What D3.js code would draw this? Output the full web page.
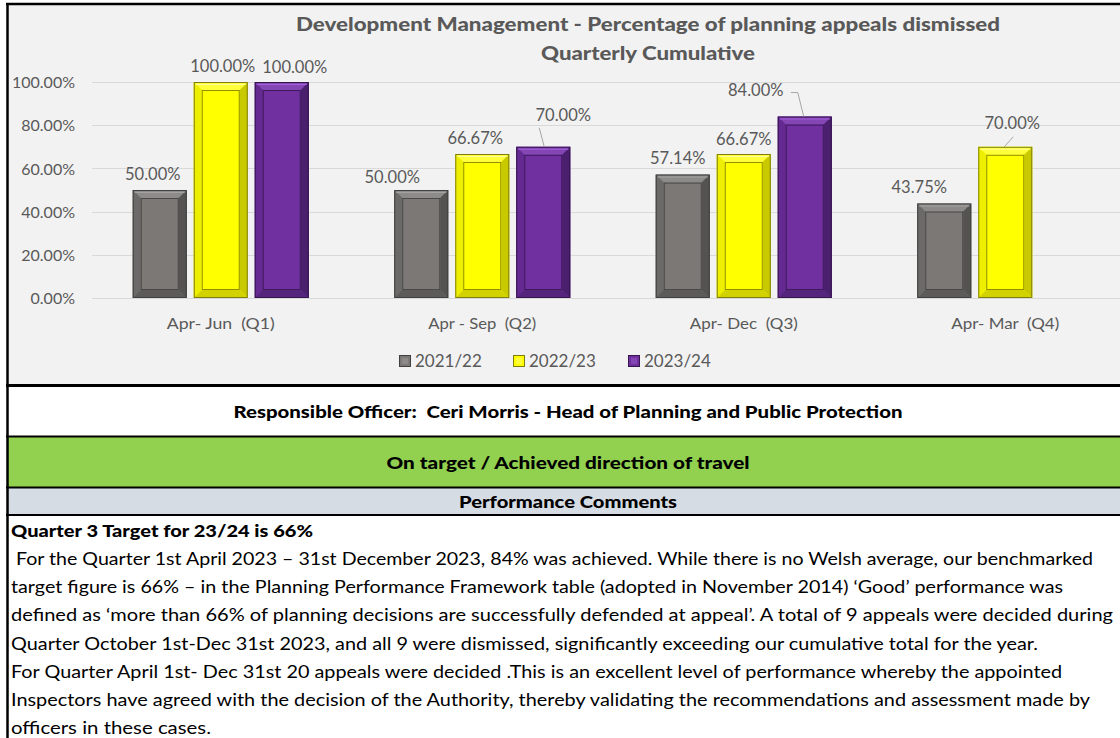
<!DOCTYPE html>
<html>
<head>
<meta charset="utf-8">
<script src="https://cdn.jsdelivr.net/npm/d3@7"></script>
<style>
  html, body { margin: 0; padding: 0; background: #ffffff; }
  svg { display: block; }
  text { white-space: pre; }
</style>
</head>
<body>
<svg id="chart" width="1120" height="738"></svg>
<script>
// ---------------- data ----------------
const categories = ["Apr- Jun  (Q1)", "Apr - Sep  (Q2)", "Apr- Dec  (Q3)", "Apr- Mar  (Q4)"];
const seriesNames = ["2021/22", "2022/23", "2023/24"];
const values2122 = [50.00, 50.00, 57.14, 43.75];
const values2223 = [100.00, 66.67, 66.67, 70.00];
const values2324 = [100.00, 70.00, 84.00, null];
const yTicks = [0, 20, 40, 60, 80, 100];

const titleLines = ["Development Management - Percentage of planning appeals dismissed", "Quarterly Cumulative"];
const officerText = "Responsible Officer:  Ceri Morris - Head of Planning and Public Protection";
const statusText = "On target / Achieved direction of travel";
const commentsHeader = "Performance Comments";
const commentLines = [
  "Quarter 3 Target for 23/24 is 66%",
  " For the Quarter 1st April 2023 \u2013 31st December 2023, 84% was achieved. While there is no Welsh average, our benchmarked",
  "target figure is 66% \u2013 in the Planning Performance Framework table (adopted in November 2014) \u2018Good\u2019 performance was",
  "defined as \u2018more than 66% of planning decisions are successfully defended at appeal\u2019. A total of 9 appeals were decided during",
  "Quarter October 1st-Dec 31st 2023, and all 9 were dismissed, significantly exceeding our cumulative total for the year.",
  "For Quarter April 1st- Dec 31st 20 appeals were decided .This is an excellent level of performance whereby the appointed",
  "Inspectors have agreed with the decision of the Authority, thereby validating the recommendations and assessment made by",
  "officers in these cases."
];

// ---------------- styles (not data) ----------------
const FONT = "Lato, 'Noto Sans', sans-serif";
const TXT = "#595959";
const palettes = {
  "2021/22": {base: "#7b7876", top: "#8d8b89", left: "#6c6a68", right: "#555351", bottom: "#5d5b59", inner: "#4a4846", outer: "#404040", hi: "#a5a3a1"},
  "2022/23": {base: "#ffff00", top: "#ffff3a", left: "#eeee00", right: "#c9c900", bottom: "#d2d200", inner: "#8f8f00", outer: "#7f7f10", hi: "#ffff9a"},
  "2023/24": {base: "#7030a0", top: "#8446b4", left: "#652a92", right: "#4a1f6e", bottom: "#55247c", inner: "#3d1a5a", outer: "#36154f", hi: "#a060d6"}
};
// label nudges relative to bar-centre / bar-top default (dx, dy)
const labelNudge = {
  "2021/22": [[-7, 0], [-29, 3], [-5, 0], [-25, 0]],
  "2022/23": [[2, 0], [-7, 0], [0, 1], [7, -8]],
  "2023/24": [[13, 1], [20, -16], [-49, -10], [0, 0]]
};
const leaderLines = {
  "2023/24": [null, [[-4, -19], [1, 0]], [[-14, -24], [-7, -24], [-1, 0]], null],
  "2022/23": [null, null, null, [[8, -10], [-1, 0]]]
};

const svg = d3.select("#chart");

// ---------------- chart background ----------------
svg.append("rect").attr("x", 7).attr("y", 4).attr("width", 1120).attr("height", 381).attr("fill", "#f2f2f2");

const y = d3.scaleLinear().domain([0, 100]).range([298, 82]);
const x0 = d3.scaleBand().domain(categories).range([90, 1136]).padding(0);
const groupW = 176;
const x1 = d3.scaleBand().domain(seriesNames)
  .range([(x0.bandwidth() - groupW) / 2, (x0.bandwidth() + groupW) / 2])
  .paddingInner(0.115).paddingOuter(0);

function fitText(sel, target) {
  const w = sel.node().getComputedTextLength();
  if (w > 0) sel.attr("textLength", target).attr("lengthAdjust", "spacingAndGlyphs");
}

// gridlines
svg.append("g").selectAll("line").data(yTicks).join("line")
  .attr("x1", 92).attr("x2", 1120)
  .attr("y1", d => Math.round(y(d)) + 0.5).attr("y2", d => Math.round(y(d)) + 0.5)
  .attr("stroke", "#d9d9d9").attr("stroke-width", 1);

// y-axis labels
const yAxis = d3.axisLeft(y).tickValues(yTicks).tickSize(0).tickPadding(0)
  .tickFormat(d => d3.format(".2f")(d) + "%");
const gy = svg.append("g").attr("transform", "translate(75,0)").call(yAxis);
gy.select(".domain").remove();
gy.selectAll("text").attr("fill", TXT).attr("font-family", FONT).attr("font-size", 16).attr("dy", "0.35em");

// x-axis labels
const xAxis = d3.axisBottom(x0).tickSize(0).tickPadding(0);
const gx = svg.append("g").attr("transform", "translate(0,298)").call(xAxis);
gx.select(".domain").remove();
gx.selectAll("text").attr("fill", TXT).attr("font-family", FONT).attr("font-size", 16)
  .attr("xml:space", "preserve").attr("dy", "0").attr("y", 31)
  .each(function() { fitText(d3.select(this), 108); });

// title
const titleWidths = [704, 214];
svg.append("g").selectAll("text").data(titleLines).join("text")
  .attr("x", 648).attr("y", (d, i) => 31 + i * 29)
  .attr("text-anchor", "middle").attr("font-family", FONT).attr("font-weight", 900)
  .attr("font-size", 19.5).attr("fill", TXT).text(d => d)
  .each(function(d, i) { fitText(d3.select(this), titleWidths[i]); });

// bevel bar
function bevelBar(g, bx, by, bw, bh, p) {
  const b = Math.min(8, bh / 2);
  const pts = a => a.map(q => q.join(",")).join(" ");
  g.append("rect").attr("x", bx).attr("y", by).attr("width", bw).attr("height", bh).attr("fill", p.base);
  g.append("polygon").attr("points", pts([[bx, by], [bx + bw, by], [bx + bw - b, by + b], [bx + b, by + b]])).attr("fill", p.top);
  g.append("polygon").attr("points", pts([[bx, by], [bx + b, by + b], [bx + b, by + bh - b], [bx, by + bh]])).attr("fill", p.left);
  g.append("polygon").attr("points", pts([[bx + bw, by], [bx + bw, by + bh], [bx + bw - b, by + bh - b], [bx + bw - b, by + b]])).attr("fill", p.right);
  g.append("polygon").attr("points", pts([[bx, by + bh], [bx + b, by + bh - b], [bx + bw - b, by + bh - b], [bx + bw, by + bh]])).attr("fill", p.bottom);
  g.append("line").attr("x1", bx + 2).attr("x2", bx + bw - 2).attr("y1", by + 2.5).attr("y2", by + 2.5).attr("stroke", p.hi).attr("stroke-width", 1);
  g.append("rect").attr("x", bx + b + 0.5).attr("y", by + b + 0.5).attr("width", Math.max(0, bw - 2 * b - 1)).attr("height", Math.max(0, bh - 2 * b - 1))
    .attr("fill", p.base).attr("stroke", p.inner).attr("stroke-width", 1);
  g.append("rect").attr("x", bx + 0.5).attr("y", by + 0.5).attr("width", bw - 1).attr("height", bh - 1)
    .attr("fill", "none").attr("stroke", p.outer).attr("stroke-width", 1);
}

const seriesValues = {"2021/22": values2122, "2022/23": values2223, "2023/24": values2324};
const barsG = svg.append("g");
const labelsG = svg.append("g");
seriesNames.forEach(s => {
  seriesValues[s].forEach((v, i) => {
    if (v === null || v === undefined) return;
    const bx = x0(categories[i]) + x1(s);
    const bw = x1.bandwidth();
    const by = y(v);
    const bh = y(0) - y(v);
    bevelBar(barsG.append("g"), bx, by, bw, bh, palettes[s]);
    const cx = bx + bw / 2;
    const n = labelNudge[s][i];
    labelsG.append("text")
      .attr("x", cx + n[0]).attr("y", by - 16 + n[1]).attr("dy", "0.35em")
      .attr("text-anchor", "middle").attr("font-family", FONT).attr("font-size", 16.5)
      .attr("fill", TXT).text(d3.format(".2f")(v) + "%");
    const ll = leaderLines[s] && leaderLines[s][i];
    if (ll) {
      labelsG.append("polyline")
        .attr("points", ll.map(q => (cx + q[0]) + "," + (by + q[1])).join(" "))
        .attr("fill", "none").attr("stroke", "#a6a6a6").attr("stroke-width", 1);
    }
  });
});

// legend
const legendX = [399, 513, 628];
const lg = svg.append("g");
seriesNames.forEach((s, i) => {
  const p = palettes[s];
  const g = lg.append("g");
  g.append("rect").attr("x", legendX[i] + 0.5).attr("y", 355.5).attr("width", 11).attr("height", 11)
    .attr("fill", p.base).attr("stroke", p.outer);
  g.append("rect").attr("x", legendX[i] + 3).attr("y", 358).attr("width", 6).attr("height", 6)
    .attr("fill", p.top);
  g.append("text").attr("x", legendX[i] + 16).attr("y", 361).attr("dy", "0.35em")
    .attr("font-family", FONT).attr("font-size", 17).attr("fill", TXT).text(s);
});

// ---------------- table ----------------
svg.append("rect").attr("x", 7).attr("y", 386).attr("width", 1120).attr("height", 51).attr("fill", "#ffffff");
svg.append("rect").attr("x", 7).attr("y", 437).attr("width", 1120).attr("height", 50).attr("fill", "#92d050");
svg.append("rect").attr("x", 7).attr("y", 488).attr("width", 1120).attr("height", 27).attr("fill", "#d6dce4");
svg.append("rect").attr("x", 7).attr("y", 515).attr("width", 1120).attr("height", 223).attr("fill", "#ffffff");

const hLines = [[4, 2.5], [385.5, 3], [436.5, 2], [487.5, 2], [515, 2]];
svg.append("g").selectAll("line").data(hLines).join("line")
  .attr("x1", 6).attr("x2", 1120).attr("y1", d => d[0]).attr("y2", d => d[0])
  .attr("stroke", "#000").attr("stroke-width", d => d[1]);
svg.append("line").attr("x1", 7.5).attr("x2", 7.5).attr("y1", 3).attr("y2", 738).attr("stroke", "#000").attr("stroke-width", 2.5);

const headRows = [[officerText, 412, 669], [statusText, 463, 363], [commentsHeader, 502, 218]];
headRows.forEach(r => {
  const t = svg.append("text").attr("x", 568).attr("y", r[1]).attr("dy", "0.35em")
    .attr("text-anchor", "middle").attr("font-family", FONT).attr("font-weight", 900)
    .attr("font-size", 17).attr("fill", "#000").text(r[0]);
  fitText(t, r[2]);
});

const commentWidths = [302, 1082, 1052, 1102, 1027, 1051, 1079, 200];
commentLines.forEach((line, i) => {
  const t = svg.append("text").attr("x", 11).attr("y", 531 + i * 28.1).attr("dy", "0.35em")
    .attr("font-family", FONT).attr("font-size", 17.5).attr("fill", "#000")
    .attr("font-weight", i === 0 ? 900 : "normal").text(line);
  fitText(t, commentWidths[i]);
});
</script>
</body>
</html>
